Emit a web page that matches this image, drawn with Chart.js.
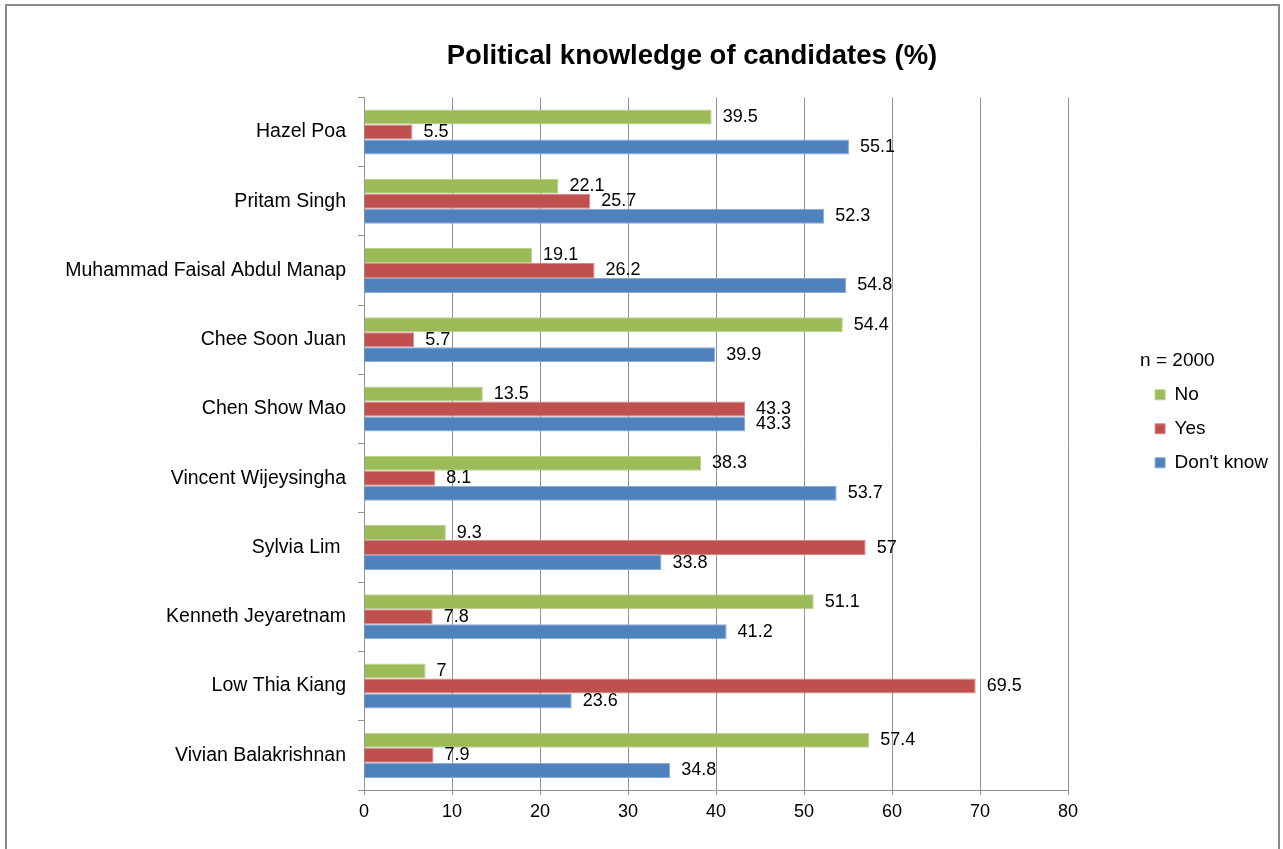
<!DOCTYPE html>
<html>
<head>
<meta charset="utf-8">
<title>Political knowledge of candidates (%)</title>
<script src="https://cdn.jsdelivr.net/npm/chart.js@4.4.1/dist/chart.umd.min.js"></script>
<style>
  html, body { margin: 0; padding: 0; background: #ffffff; overflow: hidden; width: 1283px; height: 849px; }
  #frame {
    position: absolute; left: 5px; top: 4px;
    width: 1271px; height: 900px;
    border: 2px solid #8a8a8a;
  }
  #chart { position: absolute; left: 0; top: 0; }
</style>
</head>
<body>
<div id="frame"></div>
<canvas id="chart" width="1344" height="849"></canvas>
<script>
// Candidates, listed top to bottom
const candidates = [
  'Hazel Poa',
  'Pritam Singh',
  'Muhammad Faisal Abdul Manap',
  'Chee Soon Juan',
  'Chen Show Mao',
  'Vincent Wijeysingha',
  'Sylvia Lim ',
  'Kenneth Jeyaretnam',
  'Low Thia Kiang',
  'Vivian Balakrishnan'
];

// Survey answers per candidate (%)
const noValues       = [39.5, 22.1, 19.1, 54.4, 13.5, 38.3, 9.3, 51.1, 7, 57.4];
const yesValues      = [5.5, 25.7, 26.2, 5.7, 43.3, 8.1, 57, 7.8, 69.5, 7.9];
const dontKnowValues = [55.1, 52.3, 54.8, 39.9, 43.3, 53.7, 33.8, 41.2, 23.6, 34.8];

// Value axis ticks
const xTicks = [0, 10, 20, 30, 40, 50, 60, 70, 80];

const chartTitle = 'Political knowledge of candidates (%)';
const legendTitle = 'n = 2000';

const FONT = '"Liberation Sans", Arial, sans-serif';
const GRID = '#939393';

// Writes each bar's value just past its end
const valueLabels = {
  id: 'valueLabels',
  afterDatasetsDraw(chart) {
    const { ctx } = chart;
    ctx.save();
    ctx.font = '18px ' + FONT;
    ctx.fillStyle = '#000000';
    ctx.textAlign = 'left';
    ctx.textBaseline = 'middle';
    chart.data.datasets.forEach((ds, i) => {
      const meta = chart.getDatasetMeta(i);
      meta.data.forEach((bar, j) => {
        ctx.fillText(String(ds.data[j]), bar.x + 11, bar.y);
      });
    });
    ctx.restore();
  }
};

// Empty side axes used only to reserve horizontal room around the legend
const blankAxis = (width, weight) => ({
  type: 'category',
  position: 'right',
  weight: weight,
  grid: { display: false },
  border: { display: false },
  ticks: { display: false },
  afterFit(scale) { scale.width = width; }
});

new Chart(document.getElementById('chart'), {
  type: 'bar',
  data: {
    labels: candidates,
    datasets: [
      { label: 'No', data: noValues, backgroundColor: '#9BBB59', borderColor: '#b9d08c', borderWidth: 1 },
      { label: 'Yes', data: yesValues, backgroundColor: '#C0504D', borderColor: '#d78886', borderWidth: 1 },
      { label: "Don't know", data: dontKnowValues, backgroundColor: '#4F81BD', borderColor: '#87a9d4', borderWidth: 1 }
    ]
  },
  options: {
    indexAxis: 'y',
    responsive: false,
    animation: false,
    devicePixelRatio: 1,
    categoryPercentage: 0.65,
    barPercentage: 1,
    layout: { padding: { left: 40, right: 0, top: 10, bottom: 20.4 } },
    scales: {
      x: {
        min: xTicks[0],
        max: xTicks[xTicks.length - 1],
        afterBuildTicks(scale) { scale.ticks = xTicks.map(v => ({ value: v })); },
        grid: { color: GRID, lineWidth: 1, tickLength: 5, drawTicks: true },
        border: { display: true, color: GRID },
        ticks: { color: '#000000', font: { family: FONT, size: 18 }, padding: 6 }
      },
      y: {
        afterFit(scale) { scale.width = 324; },
        grid: { display: true, drawOnChartArea: false, color: GRID, tickLength: 6, offset: true },
        border: { display: true, color: GRID },
        ticks: { color: '#000000', font: { family: FONT, size: 19.5 }, padding: 12 }
      },
      gapBeforeLegend: blankAxis(72, 0),
      gapAfterLegend: blankAxis(66, 2000)
    },
    plugins: {
      title: {
        display: true,
        text: chartTitle,
        color: '#000000',
        font: { family: FONT, size: 27.5, weight: 'bold' },
        padding: { top: 30, bottom: 24.3 }
      },
      legend: {
        position: 'right',
        align: 'center',
        title: {
          display: true,
          text: legendTitle,
          position: 'start',
          color: '#000000',
          font: { family: FONT, size: 19, lineHeight: 1 },
          padding: { top: 0, bottom: 0 }
        },
        labels: {
          color: '#000000',
          font: { family: FONT, size: 19 },
          boxWidth: 10,
          boxHeight: 10,
          padding: 15
        }
      },
      tooltip: { enabled: false }
    }
  },
  plugins: [valueLabels]
});
</script>
</body>
</html>
